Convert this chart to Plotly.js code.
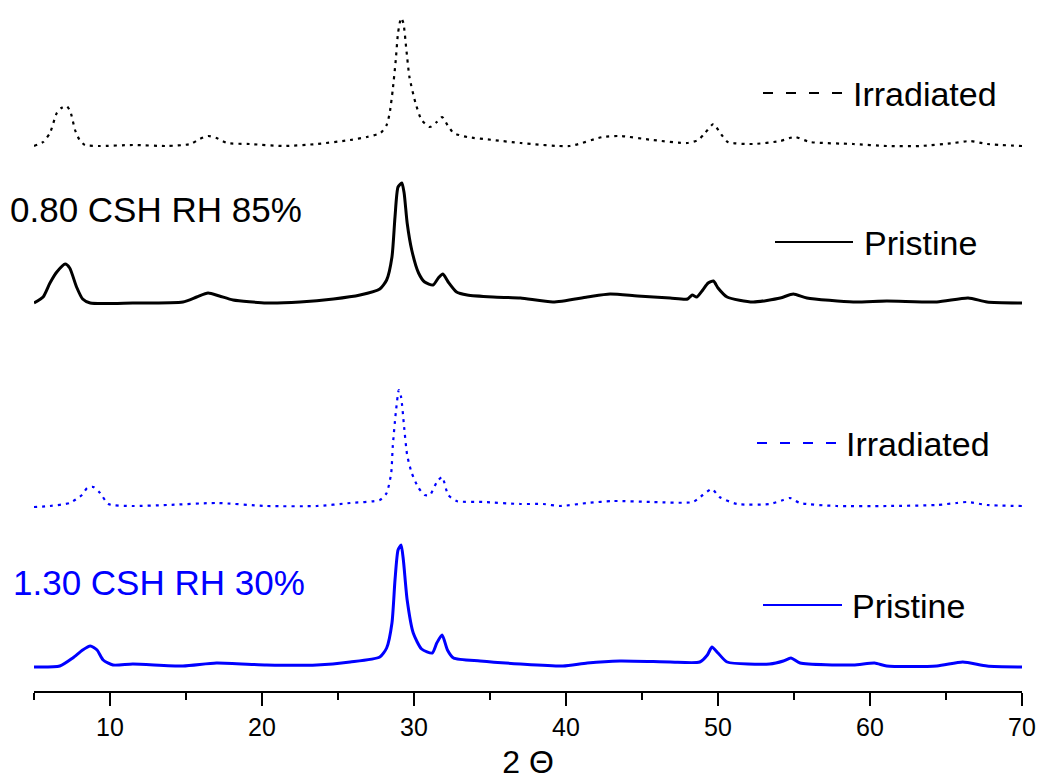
<!DOCTYPE html>
<html>
<head>
<meta charset="utf-8">
<script src="https://cdn.plot.ly/plotly-3.0.1.min.js"></script>
<style>html,body{margin:0;padding:0;background:#fff;}#chart{width:1038px;height:782px;}</style>
</head>
<body>
<div id="chart"></div>
<script>
// 2-theta positions and stacked intensities (a.u.)
var xBlackIrr = [5.0,5.6,6.05,6.5,6.8,7.15,7.4,7.7,8.0,8.35,9.3,11.5,13.75,15.3,15.9,16.45,17.0,17.7,19.2,21.4,23.6,25.8,26.9,27.8,28.2,28.4,28.6,28.8,28.95,29.15,29.3,29.5,29.7,30.1,30.5,31.05,31.5,31.85,32.2,32.6,33.5,35.2,37.0,40.25,42.4,43.55,45.7,47.95,48.7,49.15,49.7,50.1,50.65,52.3,54.1,55.05,56.05,58.9,61.1,63.3,65.5,66.6,67.7,70.0];
var yBlackIrr = [545,549,558,578,583,585,579,561,551,546,545,546,545,547,552,555,553,548,547,545,547,551,554,558,566,578,601,631,658,673,668,641,614,588,571,564,569,574,566,558,554,551,548,545,554,555,551,548,551,558,567,559,549,547,550,554,549,547,545,545,548,550,547,545];

var xBlackPri = [5.0,5.6,6.05,6.5,7.05,7.35,7.8,8.2,8.7,11.5,14.8,15.7,16.45,17.2,18.1,20.3,22.5,24.7,26.45,27.75,28.2,28.55,28.75,28.95,29.2,29.35,29.55,29.85,30.3,30.7,31.25,31.6,31.9,32.25,32.8,33.5,35.2,37.0,39.15,41.4,42.9,44.7,46.85,48.0,48.3,48.6,49.0,49.35,49.7,50.0,50.6,52.3,54.1,54.95,55.85,58.9,61.1,64.4,66.45,67.7,70.0];
var yBlackPri = [388,394,408,419,427,423,404,392,388,388,389,394,398,395,391,388,389,392,396,402,411,434,474,504,508,498,468,441,418,409,406,413,417,409,399,396,394,393,389,394,397,395,393,392,396,394,401,408,410,403,394,389,393,397,393,389,390,389,393,389,388];

var xBlueIrr = [5.0,6.05,7.35,8.15,8.5,8.9,9.35,9.9,11.5,13.75,17.0,20.3,23.6,25.8,27.75,28.2,28.5,28.6,28.8,29.0,29.15,29.35,29.55,29.85,30.3,30.7,31.05,31.5,31.85,32.25,32.8,34.55,37.0,38.5,39.6,41.4,43.1,45.7,48.35,49.0,49.6,50.1,51.25,53.4,54.3,54.75,55.4,57.8,61.1,64.4,65.7,66.4,67.7,70.0];
var yBlueIrr = [184,185,188,196,203,204,198,187,185,186,188,185,185,188,191,198,218,244,278,301,294,264,236,218,203,196,196,209,214,196,190,189,187,187,185,188,190,189,189,196,202,194,187,187,191,193,188,185,185,186,188,189,186,185];

var xBluePri = [5.0,6.7,7.55,8.2,8.7,9.15,9.55,10.2,11.5,14.8,17.0,20.3,23.6,25.8,27.75,28.2,28.55,28.75,28.95,29.15,29.3,29.55,29.95,30.5,31.2,31.5,31.85,32.2,32.6,34.35,37.0,39.8,41.4,43.55,46.85,48.8,49.3,49.6,50.0,50.6,53.4,54.3,54.8,55.4,58.9,60.3,61.1,64.4,66.1,67.7,70.0];
var yBluePri = [24,25,33,41,45,41,31,26,27,25,28,26,26,29,34,43,68,111,141,146,131,91,58,42,38,48,56,41,33,30,27,25,28,30,29,29,36,44,38,29,27,30,33,28,26,28,25,25,29,25,24];

var xTickVals = [10,20,30,40,50,60,70];
var xTickText = ['10','20','30','40','50','60','70'];
var seriesNames = ['Irradiated','Pristine','Irradiated','Pristine'];
var sampleLabels = ['0.80 CSH RH 85%','1.30 CSH RH 30%'];
var axisTitle = '2 \u0398';

var BLUE = '#0000ff', BLACK = '#000000';
var FONT = 'Liberation Sans, Arial, sans-serif';
var DASH_IRR = '3px,5px';

var traces = [
  {x:xBlackIrr, y:yBlackIrr, mode:'lines', name:seriesNames[0], line:{color:BLACK, width:2.2, dash:DASH_IRR, shape:'spline', smoothing:0.6}},
  {x:xBlackPri, y:yBlackPri, mode:'lines', name:seriesNames[1], line:{color:BLACK, width:3, shape:'spline', smoothing:0.6}},
  {x:xBlueIrr, y:yBlueIrr, mode:'lines', name:seriesNames[2], line:{color:BLUE, width:2.2, dash:DASH_IRR, shape:'spline', smoothing:0.6}},
  {x:xBluePri, y:yBluePri, mode:'lines', name:seriesNames[3], line:{color:BLUE, width:3, shape:'spline', smoothing:0.6}}
];

// pixel -> paper helpers for layout decorations
var L = 34, W = 988, H = 691;
function px(x){ return (x - L) / W; }
function py(y){ return (H - y) / H; }

function legendLine(x0, x1, y, color, dash){
  return {type:'line', xref:'paper', yref:'paper', x0:px(x0), x1:px(x1), y0:py(y), y1:py(y),
          line:{color:color, width:2, dash:dash}};
}
function legendText(x, y, txt){
  return {xref:'paper', yref:'paper', x:px(x), y:py(y), xanchor:'left', yanchor:'middle',
          text:txt, showarrow:false, font:{family:FONT, size:34, color:BLACK}};
}

var layout = {
  width:1038, height:782,
  margin:{l:L, r:1038-L-W, t:0, b:782-H},
  paper_bgcolor:'#fff', plot_bgcolor:'#fff',
  showlegend:false,
  font:{family:FONT, color:BLACK},
  xaxis:{
    range:[5,70], showgrid:false, zeroline:false,
    showline:true, linecolor:BLACK, linewidth:2,
    ticks:'outside', ticklen:13, tickwidth:2, tickcolor:BLACK,
    tickvals:xTickVals, ticktext:xTickText,
    tickfont:{family:FONT, size:25, color:BLACK},
    minor:{dtick:5, tick0:5, ticks:'outside', ticklen:7, tickwidth:2, tickcolor:BLACK, showgrid:false},
    title:{text:axisTitle, font:{family:FONT, size:32, color:BLACK}, standoff:11}
  },
  yaxis:{range:[0,H], visible:false, fixedrange:true},
  shapes:[
    legendLine(763, 842, 93, BLACK, '10px,13px'),
    legendLine(775, 853, 242, BLACK, 'solid'),
    legendLine(757, 837, 443, BLUE, '10px,13px'),
    legendLine(763, 842, 605, BLUE, 'solid')
  ],
  annotations:[
    legendText(851, 94, seriesNames[0]),
    legendText(862, 243, seriesNames[1]),
    legendText(844, 444, seriesNames[2]),
    legendText(850, 606, seriesNames[3]),
    {xref:'paper', yref:'paper', x:px(8), y:py(209), xanchor:'left', yanchor:'middle', text:sampleLabels[0],
     showarrow:false, font:{family:FONT, size:35, color:BLACK}},
    {xref:'paper', yref:'paper', x:px(11), y:py(582), xanchor:'left', yanchor:'middle', text:sampleLabels[1],
     showarrow:false, font:{family:FONT, size:35, color:BLUE}}
  ]
};

Plotly.newPlot('chart', traces, layout, {displayModeBar:false, staticPlot:true});
</script>
</body>
</html>
